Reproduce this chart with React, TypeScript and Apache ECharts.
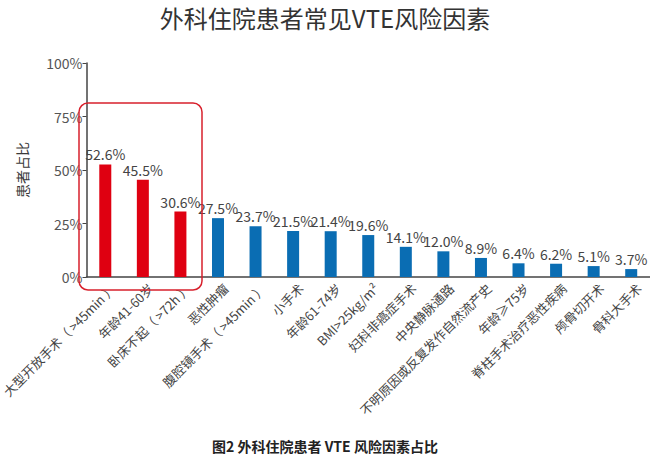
import React, { useEffect, useRef } from "react";
import * as echarts from "echarts";

const categories = [
  "大型开放手术（ >45min ）",
  "年龄41-60岁",
  "卧床不起（ >72h ）",
  "恶性肿瘤",
  "腹腔镜手术（ >45min ）",
  "小手术",
  "年龄61-74岁",
  "BMI>25kg/m²",
  "妇科非癌症手术",
  "中央静脉通路",
  "不明原因或反复发作自然流产史",
  "年龄≥75岁",
  "脊柱手术治疗恶性疾病",
  "颅骨切开术",
  "骨科大手术",
];
const values = [52.6, 45.5, 30.6, 27.5, 23.7, 21.5, 21.4, 19.6, 14.1, 12.0, 8.9, 6.4, 6.2, 5.1, 3.7];
const highlightCount = 3;
const yTicks = [0, 25, 50, 75, 100];
const titleText = "外科住院患者常见VTE风险因素";
const captionText = "图2 外科住院患者 VTE 风险因素占比";
const yName = "患者占比";

const RED = "#df0011";
const BLUE = "#0a6db3";
const FONT = "'Noto Sans CJK SC', 'Noto Sans', sans-serif";

export default function App() {
  const ref = useRef<HTMLDivElement>(null);
  useEffect(() => {
    document.body.style.margin = "0";
    if (!ref.current) return;
    const chart = echarts.init(ref.current, null, { renderer: "svg" });
    chart.setOption({
      animation: false,
      textStyle: { fontFamily: FONT },
      title: {
        text: titleText,
        left: "center",
        top: 0,
        textStyle: { fontSize: 24, fontWeight: "normal", color: "#333", fontFamily: FONT },
      },
      grid: {
        left: 86.5,
        right: 0,
        top: 63,
        bottom: 178,
        containLabel: false,
        outerBoundsMode: "none",
      },
      xAxis: {
        type: "category",
        data: categories,
        axisLine: { lineStyle: { color: "#444", width: 1.5 } },
        axisTick: { show: false },
        axisLabel: {
          rotate: 45,
          interval: 0,
          margin: 1,
          verticalAlign: "top",
          lineHeight: 22,
          fontSize: 12.8,
          color: "#444",
          fontFamily: FONT,
        },
      },
      yAxis: {
        type: "value",
        min: 0,
        max: 100,
        interval: 25,
        name: yName,
        nameLocation: "middle",
        nameRotate: 90,
        nameGap: 58,
        nameTextStyle: { fontSize: 14, color: "#3a3a3a", fontFamily: FONT },
        axisLine: { show: true, lineStyle: { color: "#444", width: 1.5 } },
        axisTick: { show: true, length: 4, lineStyle: { color: "#444" } },
        splitLine: { show: false },
        axisLabel: {
          fontSize: 14,
          color: "#555",
          margin: 4,
          formatter: (v: number) => (yTicks.includes(v) ? v + "%" : ""),
        },
      },
      series: [
        {
          type: "bar",
          barWidth: 12,
          data: values.map((v, i) => ({
            value: v,
            itemStyle: { color: i < highlightCount ? RED : BLUE },
          })),
          label: {
            show: true,
            position: "top",
            distance: 3,
            fontSize: 14,
            color: "#444",
            formatter: (p: any) => p.value.toFixed(1) + "%",
          },
        },
      ],
      graphic: [
        {
          type: "rect",
          shape: { x: 79, y: 103, width: 123, height: 187, r: 9 },
          style: { fill: "none", stroke: "#d8202c", lineWidth: 1.5 },
          z: 10,
        },
        {
          type: "text",
          left: "center",
          top: 439,
          style: {
            text: captionText,
            fontSize: 14,
            fontWeight: "bold",
            fill: "#222",
            fontFamily: FONT,
          },
        },
      ],
    });
    return () => chart.dispose();
  }, []);
  return <div ref={ref} style={{ width: 650, height: 455 }} />;
}
